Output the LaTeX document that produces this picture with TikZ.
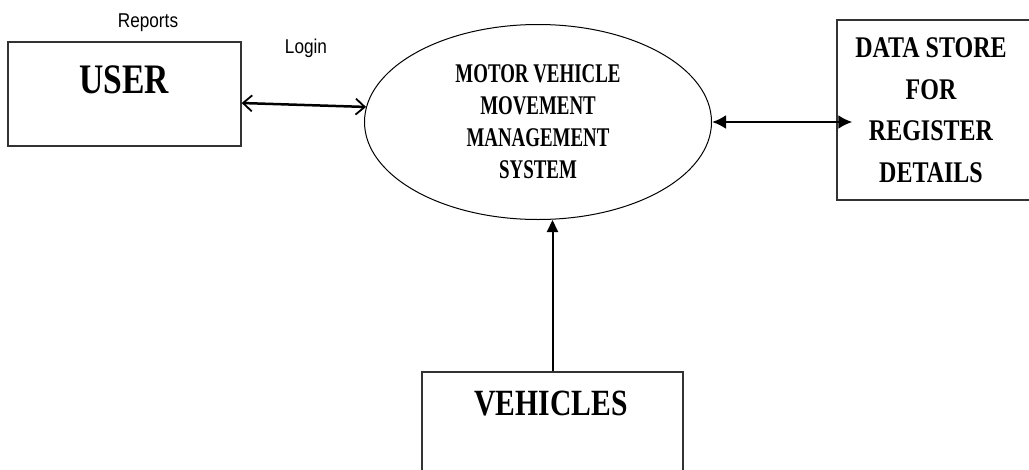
\documentclass[tikz,border=0pt]{standalone}
\usepackage{fontspec}
\setmainfont{Liberation Serif}
\newfontfamily\condserif[FakeStretch=0.8]{Liberation Serif}
\newfontfamily\narrowserif[FakeStretch=0.7]{Liberation Serif}
\newfontfamily\condsans[FakeStretch=0.86]{Liberation Sans}
\usetikzlibrary{arrows.meta,shapes.geometric}
\begin{document}
\begin{tikzpicture}[x=1pt,y=-1pt,
  boxshape/.style={draw=black!80, line width=1.3pt, inner sep=0pt},
  txt/.style={inner sep=0pt, text=black},
  lbl/.style={txt, anchor=base, font=\condsans\fontsize{20}{24}\selectfont},
]
\clip (0,0) rectangle (1029,469);
% boxes
\node[boxshape, minimum width=233pt, minimum height=104pt] (user) at (124.5,94) {};
\node[boxshape, minimum width=200pt, minimum height=180pt] (ds) at (937,110) {};
\node[boxshape, minimum width=261pt, minimum height=150pt] (veh) at (552.5,447) {};
% process
\node[draw, ellipse, line width=1pt, minimum width=347pt, minimum height=195pt,
      inner sep=0pt, align=center,
      font=\narrowserif\bfseries\fontsize{27}{32}\selectfont] (sys) at (538,122)
      {MOTOR VEHICLE\\MOVEMENT\\MANAGEMENT\\SYSTEM};
% texts
\node[txt, anchor=base, font=\condserif\bfseries\fontsize{42}{50}\selectfont] (usertxt) at (124,93) {USER};
\node[txt, anchor=base, font=\condserif\bfseries\fontsize{37}{44}\selectfont] (vehtxt) at (551,415) {VEHICLES};
\node[txt, align=center, font=\condserif\bfseries\fontsize{30}{41.5}\selectfont] (dstxt) at (931,110)
      {DATA STORE\\FOR\\REGISTER\\DETAILS};
\node[lbl] (reports) at (148,27) {Reports};
\node[lbl] (login) at (306,53) {Login};
% flows
\draw[line width=2.5pt, {Straight Barb[length=9pt,width=16pt,line width=1.8pt]}-{Straight Barb[length=9pt,width=16pt,line width=1.8pt]}]
  ([yshift=-9pt]user.east) -- (sys.175);
\draw[line width=2.5pt, {Latex[length=14pt,width=14pt]}-{Latex[length=14pt,width=14pt]}]
  (sys.east) -- ([xshift=16pt]ds.west |- sys.east);
\draw[line width=2pt, -{Triangle[length=12pt,width=11pt]}]
  (veh.north) -- (veh.north |- sys.south);
\end{tikzpicture}
\end{document}
